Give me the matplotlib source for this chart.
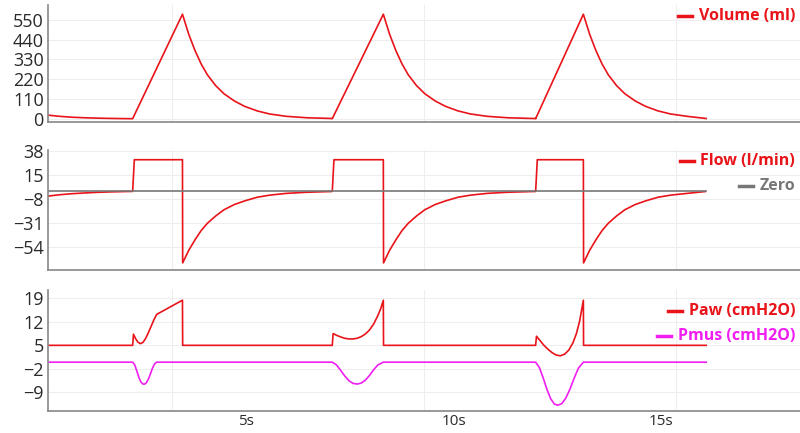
import matplotlib
matplotlib.use("Agg")
import matplotlib.pyplot as plt

plt.rcParams['font.family'] = ['Open Sans', 'DejaVu Sans']

RED = "#e8141a"
MAG = "#f01ef0"
GREY = "#777777"

# inspiration start / end of each breath (s)
insp_start = [2.26, 7.07, 11.97]
insp_end = [3.46, 8.30, 13.12]
t_last = 16.08

# volume (ml): start of record, then template relative to end of inspiration
vol_pre_t = [0.20, 0.5, 0.8, 1.1, 1.4, 1.7, 2.0, 2.26]
vol_pre_v = [22, 15, 10, 7, 5, 3.5, 2.5, 2]
vol_exp_dt = [0, 0.15, 0.3, 0.45, 0.6, 0.8, 1.0, 1.25, 1.5, 1.8, 2.1, 2.5, 3.0, 3.61]
vol_exp_v = [580, 470, 380, 305, 245, 185, 140, 100, 70, 45, 28, 15, 7, 3]
vol_peak = 580

# flow (l/min)
flow_pre_t = [0.20, 0.5, 0.8, 1.1, 1.4, 1.7, 2.0, 2.24]
flow_pre_v = [-5, -3.6, -2.6, -1.9, -1.3, -0.9, -0.6, -0.4]
flow_plateau = 30
flow_exp_dt = [0, 0.15, 0.3, 0.45, 0.6, 0.8, 1.0, 1.25, 1.5, 1.8, 2.1, 2.5, 3.0, 3.61]
flow_exp_v = [-69, -57, -47, -38, -31, -24, -18, -13, -9.5, -6, -4, -2.3, -1.2, -0.5]

# airway pressure (cmH2O), each breath read separately
peep = 5
paw_t = [
    [2.26, 2.28, 2.33, 2.39, 2.45, 2.51, 2.57, 2.64, 2.71, 2.78, 2.84, 3.46],
    [7.07, 7.09, 7.17, 7.27, 7.37, 7.47, 7.57, 7.67, 7.77, 7.87, 7.97, 8.07, 8.17, 8.24, 8.3],
    [11.97, 11.99, 12.07, 12.17, 12.27, 12.37, 12.47, 12.57, 12.67, 12.77, 12.87, 12.95, 13.03, 13.12],
]
paw_v = [
    [5, 8.3, 7.0, 5.9, 5.5, 5.9, 7.0, 8.8, 10.8, 12.8, 14.2, 18.4],
    [5, 8.5, 8.0, 7.5, 7.1, 6.9, 6.9, 7.1, 7.6, 8.4, 9.6, 11.4, 13.9, 16.0, 18.4],
    [5, 7.7, 6.5, 5.0, 3.8, 2.8, 2.1, 1.9, 2.4, 3.6, 5.8, 8.4, 12.2, 18.4],
]
# muscle pressure (cmH2O)
pmus_t = [
    [2.26, 2.31, 2.36, 2.41, 2.46, 2.51, 2.55, 2.59, 2.64, 2.69, 2.74, 2.79, 2.84],
    [7.07, 7.17, 7.27, 7.37, 7.47, 7.57, 7.67, 7.77, 7.87, 7.97, 8.07, 8.17, 8.3],
    [11.97, 12.06, 12.15, 12.24, 12.33, 12.42, 12.5, 12.6, 12.7, 12.8, 12.9, 13.0, 13.12],
]
pmus_v = [
    [0, -0.8, -2.6, -4.5, -5.9, -6.5, -6.5, -6.1, -5.0, -3.4, -1.7, -0.5, 0],
    [0, -0.8, -2.4, -4.1, -5.5, -6.3, -6.5, -6.2, -5.3, -3.9, -2.2, -0.8, 0],
    [0, -1.6, -4.6, -8.0, -10.8, -12.4, -12.8, -12.3, -10.6, -7.9, -4.7, -1.8, 0],
]

# ---- assemble series ----
vt, vv, ft, fv = list(vol_pre_t), list(vol_pre_v), list(flow_pre_t), list(flow_pre_v)
pt, pv, mt, mv = [0.20], [peep], [0.20], [0]
for i, (a, b) in enumerate(zip(insp_start, insp_end)):
    nxt = insp_start[i + 1] if i + 1 < len(insp_start) else t_last
    vt += [a, b] + [b + d for d in vol_exp_dt[1:] if b + d < nxt] + [nxt]
    vv += [2, vol_peak] + [v for d, v in zip(vol_exp_dt[1:], vol_exp_v[1:]) if b + d < nxt] + [vol_exp_v[-1]]
    ft += [a, a + 0.04, b, b + 0.005] + [b + d for d in flow_exp_dt[1:] if b + d < nxt - 0.03] + [nxt - 0.02]
    fv += [-0.4, flow_plateau, flow_plateau, flow_exp_v[0]] + \
          [v for d, v in zip(flow_exp_dt[1:], flow_exp_v[1:]) if b + d < nxt - 0.03] + [flow_exp_v[-1]]
    pt += paw_t[i] + [b + 0.005, nxt]
    pv += paw_v[i] + [peep, peep]
    mt += pmus_t[i] + [nxt]
    mv += pmus_v[i] + [0]

fig = plt.figure(figsize=(8, 4.33), dpi=100)
L, W = 0.06, 0.94
ax1 = fig.add_axes([L, 0.718, W, 0.270])
ax2 = fig.add_axes([L, 0.376, W, 0.278])
ax3 = fig.add_axes([L, 0.05, W, 0.280])

for ax in (ax1, ax2, ax3):
    ax.set_xlim(0.22, 18.34)
    for s in ("top", "right"):
        ax.spines[s].set_visible(False)
    for s in ("left", "bottom"):
        ax.spines[s].set_color("#888888")
        ax.spines[s].set_linewidth(1.2)
    ax.tick_params(length=0, labelsize=13, colors="#2a2a2a", pad=3)
    ax.grid(True, axis="y", color="#eeeeee", linewidth=0.8)
    for gx in (3.2, 9.27, 15.35):
        ax.axvline(gx, color="#eeeeee", linewidth=0.8, zorder=0)
    ax.set_axisbelow(True)

ax1.plot(vt, vv, color=RED, linewidth=1.2)
ax1.set_ylim(-17, 630)
ax1.set_yticks([0, 110, 220, 330, 440, 550])
ax1.set_xticks([])

ax2.plot(ft, fv, color=RED, linewidth=1.2)
ax2.plot([0.22, t_last], [0, 0], color=GREY, linewidth=1.2)
ax2.set_ylim(-76, 39.5)
ax2.set_yticks([38, 15, -8, -31, -54])
ax2.set_xticks([])

ax3.plot(pt, pv, color=RED, linewidth=1.2)
ax3.plot(mt, mv, color=MAG, linewidth=1.2)
ax3.set_ylim(-14.6, 21.4)
ax3.set_yticks([19, 12, 5, -2, -9])
ax3.set_xticks([5, 10, 15])
ax3.set_xticklabels(["5s", "10s", "15s"])
ax3.tick_params(axis="x", pad=2, labelsize=11)

def legend(y, text, color):
    fig.text(0.994, y, text, color=color, fontsize=11.5, fontweight="bold",
             ha="right", va="center")
    t = fig.texts[-1]
    fig.canvas.draw()
    bb = t.get_window_extent()
    x0 = bb.x0 / fig.bbox.width
    fig.add_artist(plt.Line2D([x0 - 0.026, x0 - 0.008], [y, y], transform=fig.transFigure,
                              color=color, linewidth=2.5))

legend(1 - 16 / 433, "Volume (ml)", RED)
legend(1 - 161 / 433, "Flow (l/min)", RED)
legend(1 - 186 / 433, "Zero", GREY)
legend(1 - 311 / 433, "Paw (cmH2O)", RED)
legend(1 - 336 / 433, "Pmus (cmH2O)", MAG)

fig.savefig("out.png", dpi=100)
